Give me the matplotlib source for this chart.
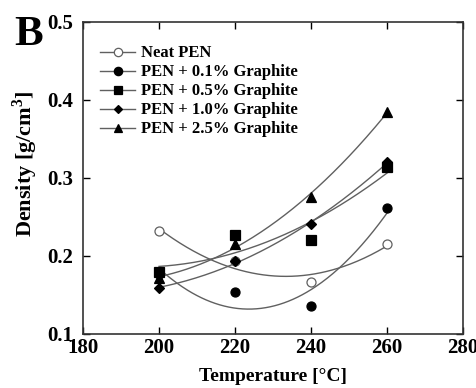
import numpy as np
import matplotlib
matplotlib.use("Agg")
import matplotlib.pyplot as plt
from matplotlib.lines import Line2D

plt.rcParams["font.family"] = ["Liberation Serif", "DejaVu Serif"]
plt.rcParams["font.weight"] = "bold"
plt.rcParams["mathtext.fontset"] = "custom"
plt.rcParams["mathtext.rm"] = "Liberation Serif:bold"

# temperatures [°C] and densities [g/cm3]
temp_neat = [200, 220, 240, 260]
dens_neat = [0.232, 0.193, 0.167, 0.216]

temp_01 = [200, 220, 240, 260]
dens_01 = [0.177, 0.154, 0.136, 0.262]

temp_05 = [200, 220, 240, 260]
dens_05 = [0.179, 0.227, 0.221, 0.314]

temp_10 = [200, 220, 240, 260]
dens_10 = [0.159, 0.193, 0.241, 0.320]

temp_25 = [200, 220, 240, 260]
dens_25 = [0.172, 0.215, 0.276, 0.385]

labels = ["Neat PEN", "PEN + 0.1% Graphite", "PEN + 0.5% Graphite",
          "PEN + 1.0% Graphite", "PEN + 2.5% Graphite"]

series = [
    (temp_neat, dens_neat, "o", "white", 6.5),
    (temp_01, dens_01, "o", "black", 6.5),
    (temp_05, dens_05, "s", "black", 6.5),
    (temp_10, dens_10, "D", "black", 5),
    (temp_25, dens_25, "^", "black", 6.5),
]

line_color = "#606060"

fig = plt.figure(figsize=(4.76, 3.88), dpi=100)
ax = fig.add_axes([0.1744, 0.1392, 0.7983, 0.8041])

handles = []
for (t, d, m, fc, ms), lab in zip(series, labels):
    # second-order trend line through each series
    coef = np.polyfit(t, d, 2)
    tt = np.linspace(min(t), max(t), 200)
    ax.plot(tt, np.polyval(coef, tt), color=line_color, lw=1.0, zorder=2)
    ec = line_color if fc == "white" else "black"
    z = 3 if fc == "white" else 4
    ax.plot(t, d, m, ms=ms, mfc=fc, mec=ec, mew=0.9, ls="none", zorder=z)
    handles.append(Line2D([0], [0], color=line_color, lw=1.0, marker=m,
                          ms=ms - 0.5, mfc=fc, mec=ec, mew=0.9, label=lab))

ax.set_xlim(180, 280)
ax.set_ylim(0.1, 0.5)
ax.set_xticks([180, 200, 220, 240, 260, 280])
ax.set_yticks([0.1, 0.2, 0.3, 0.4, 0.5])
ax.set_yticklabels(["0.1", "0.2", "0.3", "0.4", "0.5"])
ax.tick_params(direction="in", top=True, right=True, length=5, width=1,
               labelsize=15)
ax.tick_params(axis="x", pad=3)
ax.tick_params(axis="y", pad=7)
for lab in ax.get_xticklabels() + ax.get_yticklabels():
    lab.set_fontweight("bold")
for sp in ax.spines.values():
    sp.set_linewidth(1.2)
    sp.set_color("#333333")

ax.set_xlabel("Temperature [°C]", fontsize=14, fontweight="bold", labelpad=7)
fig.text(25 / 476, 1 - 164 / 388, "Density [g/cm$^3$]", fontsize=16,
         fontweight="bold", rotation=90, ha="center", va="center")

ax.legend(handles=handles, loc="upper left", bbox_to_anchor=(0.045, 0.925),
          frameon=False, handlelength=2.1, handletextpad=0.35,
          labelspacing=0.18, borderaxespad=0, borderpad=0,
          prop={"weight": "bold", "size": 12})

fig.text(0.03, 0.885, "B", fontsize=31, fontweight="bold")

fig.savefig("out.png", dpi=100)
